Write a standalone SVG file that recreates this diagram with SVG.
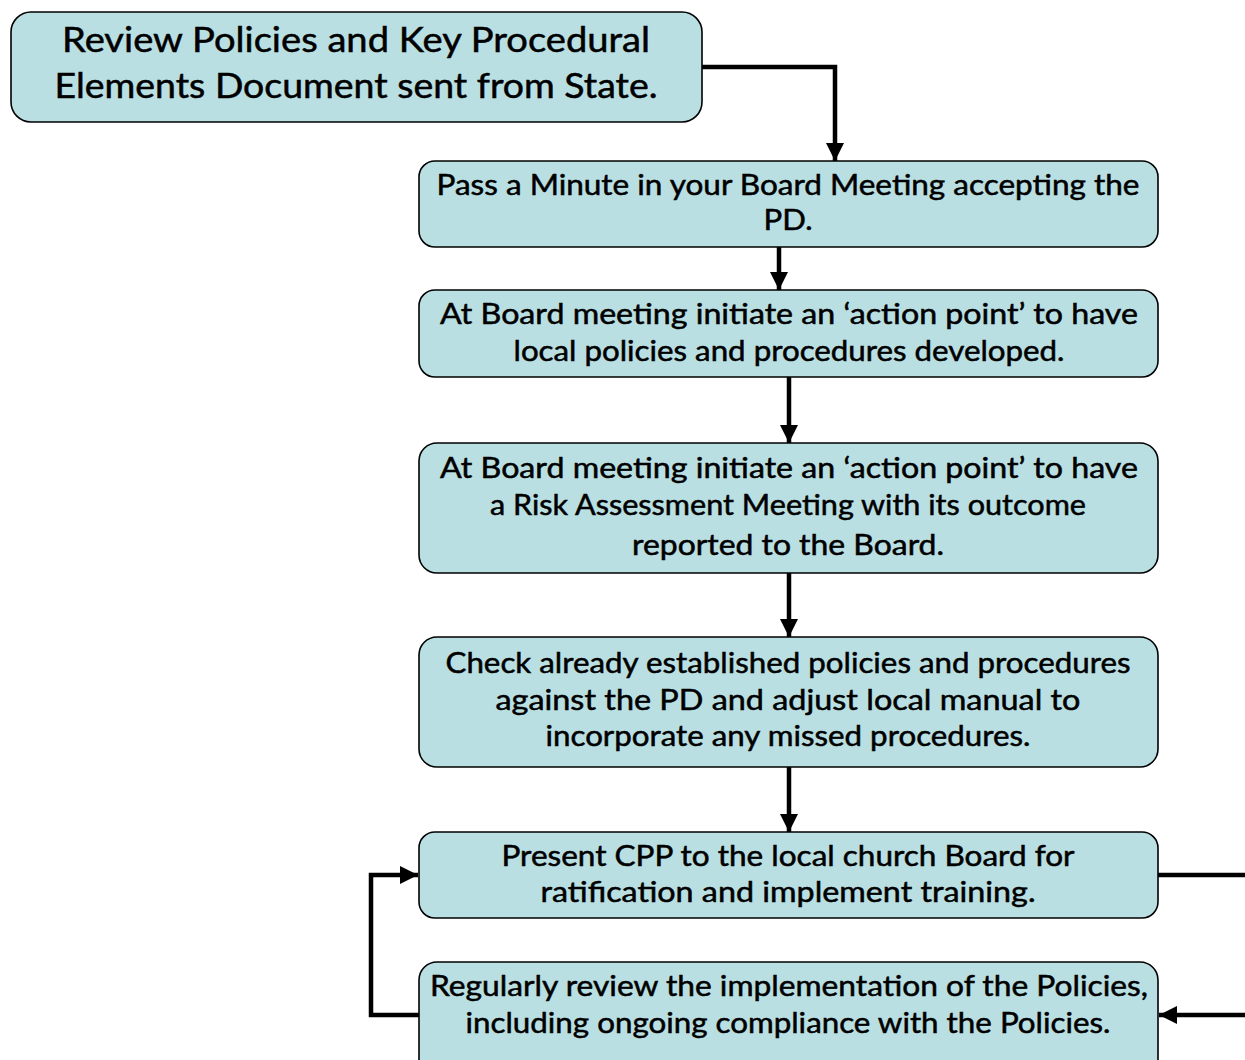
<svg xmlns="http://www.w3.org/2000/svg" width="1245" height="1060" viewBox="0 0 1245 1060">
<style>
.box{fill:#b9dfe3;stroke:#000;stroke-width:1.6}
.t{font-family:"Lato","Open Sans","Liberation Sans",sans-serif;font-size:28px;fill:#000;stroke:#000;stroke-width:0.5;text-anchor:middle}
.t1{font-size:34px}
.c{fill:none;stroke:#000;stroke-width:4.5}
</style>
<defs>
<marker id="ah" viewBox="0 0 10 10" refX="10" refY="5" markerWidth="4" markerHeight="4" markerUnits="strokeWidth" orient="auto">
<path d="M0,0 L10,5 L0,10 z" fill="#000"/>
</marker>
</defs>
<rect width="1245" height="1060" fill="#fff"/>
<g id="connectors">
<polyline class="c" points="702,67 835,67 835,161" marker-end="url(#ah)"/>
<line class="c" x1="779" y1="247" x2="779" y2="290" marker-end="url(#ah)"/>
<line class="c" x1="789" y1="377" x2="789" y2="443" marker-end="url(#ah)"/>
<line class="c" x1="789" y1="573" x2="789" y2="637" marker-end="url(#ah)"/>
<line class="c" x1="789" y1="767" x2="789" y2="832" marker-end="url(#ah)"/>
<line class="c" x1="1158" y1="875" x2="1250" y2="875"/>
<line class="c" x1="1250" y1="1015" x2="1159" y2="1015" marker-end="url(#ah)"/>
<polyline class="c" points="419,1015 371,1015 371,875 418,875" marker-end="url(#ah)"/>
</g>
<g id="n1">
<rect class="box" x="11" y="12" width="691" height="110" rx="20"/>
<text class="t t1" x="356" y="52" textLength="588" lengthAdjust="spacingAndGlyphs">Review Policies and Key Procedural</text>
<text class="t t1" x="356" y="98" textLength="603" lengthAdjust="spacingAndGlyphs">Elements Document sent from State.</text>
</g>
<g id="n2">
<rect class="box" x="419" y="161" width="739" height="86" rx="16"/>
<text class="t" x="788" y="195" textLength="703" lengthAdjust="spacingAndGlyphs">Pass a Minute in your Board Meeting accepting the</text>
<text class="t" x="788" y="230" textLength="49" lengthAdjust="spacingAndGlyphs">PD.</text>
</g>
<g id="n3">
<rect class="box" x="419" y="290" width="739" height="87" rx="16"/>
<text class="t" x="789" y="324" textLength="698" lengthAdjust="spacingAndGlyphs">At Board meeting initiate an ‘action point’ to have</text>
<text class="t" x="789" y="361" textLength="551" lengthAdjust="spacingAndGlyphs">local policies and procedures developed.</text>
</g>
<g id="n4">
<rect class="box" x="419" y="443" width="739" height="130" rx="18"/>
<text class="t" x="789" y="478" textLength="698" lengthAdjust="spacingAndGlyphs">At Board meeting initiate an ‘action point’ to have</text>
<text class="t" x="788" y="515" textLength="596" lengthAdjust="spacingAndGlyphs">a Risk Assessment Meeting with its outcome</text>
<text class="t" x="788" y="555" textLength="312" lengthAdjust="spacingAndGlyphs">reported to the Board.</text>
</g>
<g id="n5">
<rect class="box" x="419" y="637" width="739" height="130" rx="18"/>
<text class="t" x="788" y="673" textLength="685" lengthAdjust="spacingAndGlyphs">Check already established policies and procedures</text>
<text class="t" x="788" y="710" textLength="585" lengthAdjust="spacingAndGlyphs">against the PD and adjust local manual to</text>
<text class="t" x="788" y="746" textLength="485" lengthAdjust="spacingAndGlyphs">incorporate any missed procedures.</text>
</g>
<g id="n6">
<rect class="box" x="419" y="832" width="739" height="86" rx="16"/>
<text class="t" x="788" y="866" textLength="573" lengthAdjust="spacingAndGlyphs">Present CPP to the local church Board for</text>
<text class="t" x="788" y="902" textLength="495" lengthAdjust="spacingAndGlyphs">ratification and implement training.</text>
</g>
<g id="n7">
<rect class="box" x="419" y="962" width="739" height="120" rx="18"/>
<text class="t" x="789" y="996" textLength="718" lengthAdjust="spacingAndGlyphs">Regularly review the implementation of the Policies,</text>
<text class="t" x="788" y="1033" textLength="645" lengthAdjust="spacingAndGlyphs">including ongoing compliance with the Policies.</text>
</g>
</svg>
